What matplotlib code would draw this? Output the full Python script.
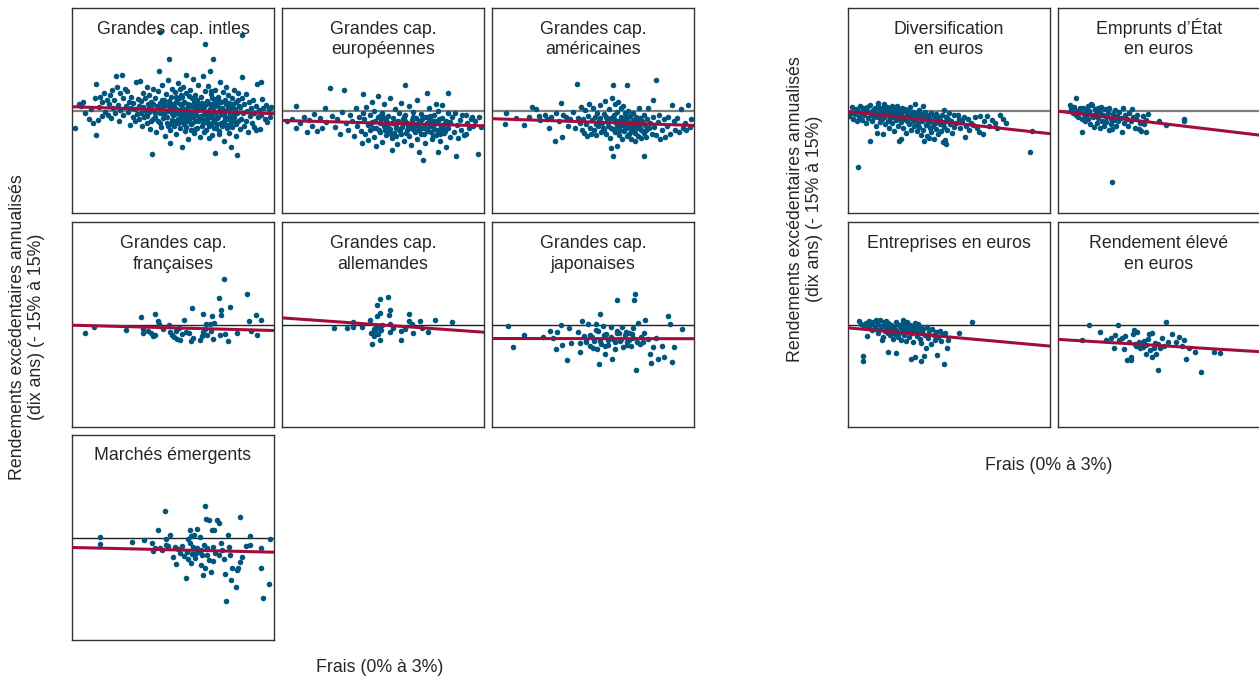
import matplotlib
matplotlib.use("Agg")
import matplotlib.pyplot as plt

plt.rcParams['font.family'] = ['Liberation Sans', 'DejaVu Sans']

# (fee %, excess return %) pairs
intl_large = [
    (0.05, -2.5), (0.10, 0.9), (0.13, 0.6), (0.17, 1.3), (0.20, -0.4), (0.25, -1.2), (0.28, 0.2), (0.31, -1.8),
    (0.34, 1.8), (0.36, 3.9), (0.36, -3.6), (0.38, -1.4), (0.40, 0.5), (0.42, 2.0), (0.45, -0.8), (0.45, 1.2),
    (0.48, 2.6), (0.49, -0.2),
    (0.52, 1.5), (0.53, -0.6), (0.55, 0.9), (0.57, 2.2), (0.58, -1.1), (0.60, 3.0), (0.61, 0.3), (0.63, 1.6),
    (0.64, -0.3), (0.66, 5.05), (0.67, 3.4), (0.68, 0.8), (0.70, -1.5), (0.71, 2.5), (0.72, 0.1), (0.74, 5.15),
    (0.75, 1.9), (0.76, -0.7), (0.78, 3.2), (0.80, 0.6), (0.81, 2.8), (0.83, -0.2), (0.84, 1.3), (0.86, -2.1),
    (0.87, 0.4), (0.88, 2.0), (0.90, -0.9), (0.91, 1.1), (0.93, -1.6), (0.94, 0.2), (0.95, 4.1), (0.96, -0.5),
    (0.98, 1.7), (0.99, -1.2), (0.99, 0.7),
    (1.01, 4.3), (1.02, -0.4), (1.03, 1.4), (1.04, -2.2), (1.05, 0.5), (1.06, 2.6), (1.07, -1.0), (1.08, 0.1),
    (1.09, 1.8), (1.10, -0.6), (1.11, 3.5), (1.12, -1.8), (1.13, 0.9), (1.14, -0.2), (1.15, 2.2), (1.16, -2.7),
    (1.17, 0.4), (1.18, 1.3), (1.19, -6.4), (1.20, -1.3), (1.21, 3.1), (1.22, 0.0), (1.23, -0.9), (1.24, 1.9),
    (1.25, -3.2), (1.26, 0.6), (1.27, -1.6), (1.28, 2.8), (1.29, 5.8), (1.30, 11.5), (1.30, -0.3), (1.31, 1.1),
    (1.32, -2.4), (1.33, 0.3), (1.34, 3.8), (1.35, -1.1), (1.36, 1.6), (1.37, -0.5), (1.38, -3.8), (1.39, 2.4),
    (1.40, 0.8), (1.41, -1.9), (1.42, 4.5), (1.43, -0.1), (1.44, 7.6), (1.44, 1.4), (1.45, -2.9), (1.46, -4.8),
    (1.46, 0.5), (1.47, 2.0), (1.48, -1.4), (1.49, 3.2),
    (1.50, -0.7), (1.51, 1.0), (1.52, -2.2), (1.53, 2.7), (1.54, 0.2), (1.55, -3.5), (1.56, 1.7), (1.57, -1.2),
    (1.58, 4.0), (1.59, -0.4), (1.60, 0.9), (1.61, -2.6), (1.62, 2.2), (1.63, -1.7), (1.64, -5.4), (1.64, 0.4),
    (1.65, 3.4), (1.66, -0.9), (1.67, 1.3), (1.68, -3.0), (1.69, 5.15), (1.69, 0.0), (1.70, 2.5), (1.71, -1.5),
    (1.72, -4.2), (1.73, 1.0), (1.74, -0.3), (1.75, 3.0), (1.76, -2.0), (1.77, 0.6), (1.78, 1.9), (1.79, -1.0),
    (1.80, 4.6), (1.81, -3.3), (1.82, 0.3), (1.83, 2.3), (1.84, -0.6), (1.85, -2.5), (1.86, 1.5), (1.87, 3.7),
    (1.88, -1.3), (1.89, 0.1), (1.90, -3.9), (1.91, 2.0), (1.92, -0.8), (1.93, 1.1), (1.94, 5.0), (1.95, -1.9),
    (1.96, 0.5), (1.97, 2.9), (1.98, 9.8), (1.98, -0.2), (1.99, -2.8), (1.52, 0.5), (1.58, -1.8), (1.63, 1.0),
    (1.71, -0.6), (1.77, -2.9), (1.84, 1.2), (1.91, -1.1), (1.55, 2.0), (1.67, -2.0), (1.74, 2.1), (1.82, -1.6),
    (1.88, 0.7), (1.96, -3.2), (1.61, 3.1), (1.79, 0.9),
    (2.00, 1.4), (2.01, -1.4), (2.02, 3.6), (2.03, 0.0), (2.04, -2.3), (2.05, 5.8), (2.05, 1.0), (2.06, -0.9),
    (2.07, 2.4), (2.08, -3.6), (2.09, 0.4), (2.10, 7.6), (2.10, -1.7), (2.11, 1.7), (2.12, -0.4), (2.13, -6.2),
    (2.13, 3.0), (2.14, -2.6), (2.15, 0.8), (2.16, -1.1), (2.17, 2.0), (2.18, -0.1), (2.19, -3.0), (2.20, 4.2),
    (2.21, 1.2), (2.22, -1.8), (2.23, 0.3), (2.24, 2.7), (2.25, -0.7), (2.26, -4.4), (2.27, 1.5), (2.28, -2.1),
    (2.29, 3.4), (2.30, 0.1), (2.31, -1.3), (2.32, 2.2), (2.33, -3.3), (2.34, 0.6), (2.35, -0.5), (2.36, -5.3),
    (2.37, 1.9), (2.38, -2.4), (2.39, 0.9), (2.40, 3.0), (2.41, -1.0), (2.42, 0.2), (2.43, -3.8), (2.44, 1.3),
    (2.45, -6.5), (2.45, -0.3), (2.46, 2.5), (2.47, -1.6), (2.48, 0.7), (2.49, -2.7), (2.02, -0.6), (2.08, 1.9),
    (2.15, -2.0), (2.21, 0.0), (2.27, -1.0), (2.33, 1.1), (2.39, -1.5), (2.44, -2.0), (2.06, 2.8), (2.18, -3.4),
    (2.30, -2.5), (2.12, 0.6), (2.24, -0.2), (2.36, 0.4), (2.47, 1.6), (2.04, -4.0),
    (2.50, 0.5), (2.51, -1.2), (2.52, 4.95), (2.53, 11.0), (2.53, 1.8), (2.54, -0.4), (2.55, -2.2), (2.56, 0.9),
    (2.58, -1.5), (2.59, 2.4), (2.60, -0.1), (2.62, -3.1), (2.63, 1.2), (2.64, -0.8), (2.66, 0.3), (2.67, -1.9),
    (2.69, 1.55), (2.70, -0.3), (2.71, -2.4), (2.73, -2.8), (2.74, 0.6), (2.75, 3.9), (2.76, -1.0), (2.78, 0.1),
    (2.79, -2.7), (2.80, 4.2), (2.81, -0.6), (2.82, 1.75), (2.84, 0.4), (2.86, -1.3), (2.88, 0.8), (2.90, -1.7),
    (2.92, 0.2), (2.94, -0.9), (2.96, 0.5),
    # dense core
    (1.12, -0.8), (1.15, 0.6), (1.18, -1.5), (1.21, 1.0), (1.24, -0.4), (1.27, 0.3), (1.30, -1.9), (1.33, 1.5),
    (1.36, -0.9), (1.39, 0.0), (1.42, -2.2), (1.45, 1.1), (1.48, -0.3), (1.51, -1.6), (1.54, 1.3), (1.57, 0.1),
    (1.60, -1.1), (1.63, 2.0), (1.66, -0.2), (1.69, -2.4), (1.72, 0.8), (1.75, -0.8), (1.78, -1.8), (1.81, 1.6),
    (1.84, -0.1), (1.87, -1.6), (1.90, 0.9), (1.93, -2.2), (1.96, -0.5), (1.99, 1.0), (2.02, -1.9), (2.05, 0.2),
    (2.08, -0.7), (2.11, -2.6), (2.14, 1.1), (2.17, -0.9), (2.20, 0.4), (2.23, -2.2), (2.26, -0.3), (2.29, 1.0),
    (2.32, -1.1), (2.35, -2.0), (2.38, 0.6), (2.41, -0.6), (1.35, 0.9), (1.41, -1.0), (1.47, -2.0), (1.53, -0.5),
    (1.59, 1.8), (1.65, -1.4), (1.71, 0.3), (1.77, -0.4), (1.83, -2.7), (1.89, -0.9), (1.95, 0.3), (2.01, -1.0),
    (2.07, -2.0), (2.13, -1.2), (2.19, 1.4), (2.25, -1.5), (2.31, 0.5), (2.37, -1.2), (1.62, -0.6), (1.74, -1.3),
    (1.86, 0.5), (1.98, -1.4), (2.10, 0.9), (2.22, -0.5), (2.34, -0.2), (1.50, 0.6),
]

europe_large = [
    (0.21, 0.7), (0.21, -2.5), (0.08, -1.6), (0.15, -1.2), (0.27, -1.8), (0.32, -0.9), (0.37, -3.2), (0.40, -1.4),
    (0.45, -2.2), (0.48, -0.5), (0.52, -3.0), (0.56, -1.1), (0.60, -2.6), (0.64, 0.3), (0.66, -1.7),
    (0.71, 3.35), (0.74, -0.8), (0.78, -2.4), (0.82, -1.3), (0.86, -3.5), (0.89, -0.2), (0.92, 3.05), (0.95, -1.9),
    (0.98, -2.9), (1.01, -0.6), (1.04, -1.5), (1.07, -3.8), (1.10, 0.4), (1.12, -2.2), (1.15, -1.0), (1.18, -3.0),
    (1.19, -4.8), (1.20, 2.4), (1.20, -0.3),
    (1.22, -1.2), (1.24, -3.4), (1.25, 0.5), (1.27, -2.1), (1.28, -4.3), (1.30, -0.6), (1.31, -2.8), (1.33, 1.3),
    (1.34, -1.7), (1.36, -3.9), (1.37, -0.1), (1.39, -2.5), (1.40, -5.2), (1.42, -1.0), (1.43, 2.1), (1.45, -3.1),
    (1.46, -1.9), (1.48, -0.4), (1.49, -4.6), (1.51, -2.3), (1.52, 0.9), (1.54, -1.4), (1.55, -3.6), (1.57, -2.0),
    (1.58, -0.8), (1.60, 1.8), (1.61, -2.7), (1.63, -4.0), (1.63, -5.8), (1.65, -1.1), (1.66, -3.3), (1.68, 0.2),
    (1.69, -2.2), (1.71, -4.9), (1.72, -1.5), (1.74, -0.3), (1.75, -3.0), (1.77, 1.1), (1.78, -2.4), (1.80, -1.3),
    (1.81, -4.4), (1.83, 3.7), (1.83, -0.7), (1.85, -2.9), (1.86, -1.8), (1.88, -3.7), (1.89, 0.6), (1.91, -2.6),
    (1.92, -5.0), (1.94, -1.0), (1.95, -0.2), (1.97, -3.2), (1.98, -2.0), (2.00, 1.5), (2.01, -4.1), (2.03, -1.6),
    (2.04, -6.0), (2.04, -2.8), (2.06, -0.5), (2.07, -3.5), (2.08, -1.2), (2.09, -7.3), (2.11, -2.4), (2.12, -4.7),
    (2.14, -0.9), (2.15, -1.9), (2.16, 2.6), (2.17, -3.0), (2.19, 0.3), (2.20, -2.2), (2.22, -1.4), (2.23, -4.2),
    (2.25, -0.6), (2.26, -2.7), (2.28, 1.0), (2.29, -3.6), (2.31, -1.8), (2.31, -6.0), (2.32, -0.1), (2.34, -2.9),
    (2.35, -4.5), (2.37, -1.1), (2.38, 0.8), (2.40, -3.3), (2.41, -2.0), (2.43, -5.3), (2.44, -1.5), (2.46, 2.6),
    (2.47, -2.6), (2.47, -0.4), (2.49, -3.9), (2.50, -1.7), (1.35, -2.6), (1.47, -1.3), (1.59, -3.1), (1.70, -2.5),
    (1.82, -1.6), (1.96, -2.3), (2.10, -0.9), (2.24, -3.8), (1.53, -2.9), (1.64, -1.9), (1.76, -3.4), (1.87, -2.3),
    (1.99, -1.1), (2.13, -2.5), (2.27, -1.6), (2.39, -2.4),
    (2.52, -1.0), (2.55, -3.2), (2.57, -0.3), (2.59, -6.7), (2.60, -2.1), (2.62, -4.0), (2.64, -1.4), (2.66, -2.8),
    (2.68, -0.7), (2.70, -3.6), (2.73, -3.5), (2.73, -0.6), (2.75, -1.9), (2.77, -2.6), (2.80, -1.2), (2.82, -0.9),
    (2.84, -2.2), (2.87, -1.5), (2.91, -6.4), (2.93, -1.0), (2.95, -2.4),
    (1.30, -2.0), (1.38, -1.5), (1.44, -2.8), (1.50, -1.0), (1.56, -2.4), (1.62, -3.4), (1.67, -1.6), (1.73, -2.7),
    (1.79, -1.9), (1.84, -3.3), (1.90, -2.1), (1.93, -1.4), (1.99, -3.0), (2.02, -2.2), (2.05, -1.5), (2.11, -3.4),
    (2.15, -2.8), (2.18, -1.2), (2.21, -3.1), (2.26, -2.0), (2.30, -2.9), (2.33, -1.3), (2.36, -2.4), (2.42, -3.0),
    (1.45, -0.8), (1.58, -1.9), (1.70, -3.8), (1.81, -0.9), (1.94, -2.7), (2.08, -2.5), (2.20, -0.8), (2.35, -3.5),
]

us_large = [
    (0.21, -0.4), (0.20, -2.0), (0.35, -1.1), (0.48, -2.1), (0.55, -0.9), (0.60, 0.5), (0.65, 0.2), (0.70, -0.8),
    (0.72, -1.4), (0.78, -0.6), (0.82, -1.2), (0.85, -2.6), (0.88, -0.9), (0.93, -4.5), (0.95, -0.4), (1.00, -1.5),
    (1.02, 1.1), (1.04, -3.9), (1.06, -0.7), (1.10, -1.0), (1.13, -2.2), (1.16, -1.3), (1.20, -0.2), (1.23, -2.5),
    (1.26, 3.95), (1.28, -1.1), (1.30, -1.8),
    (1.32, 0.5), (1.34, -2.8), (1.35, -1.2), (1.37, -3.3), (1.38, 0.1), (1.40, -2.0), (1.41, -3.8), (1.43, -0.8),
    (1.44, 1.0), (1.46, -2.5), (1.47, -3.5), (1.49, -1.4), (1.50, 0.3), (1.52, -2.9), (1.53, -1.0), (1.55, -3.6),
    (1.56, -0.3), (1.58, -2.2), (1.59, -1.6), (1.61, 0.8), (1.62, -3.1), (1.64, -1.8), (1.65, -2.6), (1.67, -0.5),
    (1.68, 1.4), (1.70, -3.4), (1.71, -1.3), (1.73, -2.3), (1.74, 0.2), (1.75, -4.0), (1.76, -5.5), (1.77, -1.1),
    (1.78, 1.9), (1.79, -6.7), (1.80, 3.66), (1.80, -2.7), (1.81, -0.6), (1.82, -3.2), (1.83, 0.9), (1.84, -1.9),
    (1.85, -5.2), (1.85, -2.4), (1.86, -0.2), (1.87, 1.2), (1.88, -3.6), (1.89, -1.5), (1.90, -2.9), (1.91, 0.4),
    (1.92, -1.0), (1.93, -4.2), (1.94, -2.1), (1.95, 0.7), (1.96, -3.0), (1.97, -1.7), (1.98, -0.4), (1.99, -2.6),
    (2.00, -3.8), (2.01, 3.7), (2.01, -1.2), (2.02, 0.0), (2.03, -2.2), (2.04, -3.4), (2.05, -0.8), (2.06, -1.9),
    (2.07, -4.1), (2.08, -2.7), (2.09, -0.3), (2.10, -1.4), (2.11, -3.1), (2.12, -2.0), (2.13, -4.5), (2.14, -0.9),
    (2.15, -2.5), (2.16, -1.6), (2.17, -3.7), (2.18, 0.3), (2.19, -2.3), (2.20, -1.1), (2.21, -4.0), (2.22, -2.8),
    (2.23, -1.5), (2.25, -6.7), (2.25, -3.3), (2.26, -0.6), (2.27, -2.1), (2.29, -3.9), (2.30, -1.3), (2.32, 0.4),
    (2.33, -2.6), (2.35, -1.8), (2.37, -3.5), (2.39, 1.6), (2.39, -1.0), (2.43, 4.4),
    (2.41, -2.4), (2.44, -3.6), (2.46, -1.7), (2.48, -0.6), (2.50, -4.1), (2.52, -2.9), (2.55, -1.3), (2.57, -3.9),
    (2.60, -2.2), (2.62, -0.9), (2.65, -3.4), (2.68, 0.83), (2.70, -1.5), (2.72, -2.8), (2.75, -1.1), (2.78, -3.2),
    (2.80, 0.2), (2.83, -2.6), (2.86, -1.8), (2.88, -2.9), (2.91, 0.83), (2.94, -2.4), (2.96, -1.2),
    (1.55, -2.0), (1.60, -1.1), (1.66, -2.9), (1.72, -1.7), (1.77, -2.5), (1.83, -1.4), (1.88, -2.2), (1.93, -1.3),
    (1.97, -2.4), (2.02, -1.7), (2.06, -2.9), (2.10, -2.2), (2.15, -1.2), (2.20, -2.6), (2.24, -1.9), (2.28, -2.9),
    (1.70, -0.9), (1.85, -3.0), (1.99, -0.9), (2.12, -3.3),
]

france_large = [
    (0.20, -1.27), (0.33, -0.3), (0.80, -0.8), (1.02, 1.07), (1.06, -1.27), (1.06, -0.6), (1.13, -0.9),
    (1.18, -1.27), (1.20, -1.65), (1.24, -1.6), (1.23, 1.5), (1.28, 0.54), (1.29, 0.05), (1.35, -0.7),
    (1.44, -0.1), (1.45, -1.17), (1.48, -1.56), (1.51, -1.9), (1.54, -1.0), (1.56, -2.14), (1.60, -2.3),
    (1.59, -0.54), (1.64, -1.4), (1.66, 0.73), (1.70, -1.17), (1.74, -1.27), (1.76, -2.4), (1.78, 2.44),
    (1.80, -2.0), (1.90, -2.2), (1.93, -1.75), (1.95, -1.17), (1.95, 1.6), (1.97, -0.7), (1.99, 0.05),
    (2.01, -1.5), (2.05, 0.05), (2.06, -0.9), (2.08, 1.2), (2.10, -2.1), (2.11, 0.2), (2.18, 3.95),
    (2.21, 2.14), (2.22, 1.36), (2.20, -1.5), (2.26, 6.7), (2.27, -1.4), (2.31, -2.48), (2.35, 2.63),
    (2.45, -1.27), (2.60, 4.4), (2.63, 0.54), (2.66, -0.9), (2.74, 1.46), (2.75, -1.5), (2.80, 0.73),
]

germany_large = [
    (0.77, -0.5), (0.97, -0.44), (1.06, 0.4), (1.06, -0.4), (1.19, -0.34), (1.31, 0.68), (1.32, -1.27),
    (1.34, -2.87), (1.36, -0.68), (1.37, -1.65), (1.38, -1.0), (1.41, 1.27), (1.41, 2.87), (1.44, -0.44),
    (1.45, 1.7), (1.46, 3.7), (1.46, -2.2), (1.47, -0.83), (1.49, -0.05), (1.57, 4.04), (1.59, 1.4),
    (1.61, 2.1), (1.60, 0.05), (1.60, -1.17), (1.65, -0.58), (1.76, -1.0), (1.76, -2.34), (1.83, -0.68),
    (1.89, 1.5), (1.89, 0.54), (1.93, 0.05), (1.95, -1.27), (2.05, 0.5), (2.08, -0.54), (2.17, -1.1),
    (2.27, 0.68), (2.52, 0.34), (1.42, -1.4), (1.39, -0.3),
]

japan_large = [
    (0.24, -0.2), (0.31, -3.26), (0.48, -1.56), (0.75, -1.85), (0.86, -0.93), (0.91, -2.0), (0.96, -1.17),
    (0.95, -3.56), (1.03, 0.0), (1.04, -3.0), (1.11, -5.16), (1.14, -0.54), (1.17, -2.78), (1.28, -1.12),
    (1.30, -4.04), (1.31, -2.78), (1.33, 0.49), (1.36, -1.7), (1.39, -2.2), (1.43, 0.05), (1.45, -3.17),
    (1.49, -1.8), (1.50, -3.4), (1.54, 0.05), (1.56, -3.6), (1.59, -5.84), (1.60, 1.6), (1.61, -2.4),
    (1.65, -0.2), (1.68, -4.3), (1.70, -1.4), (1.73, -2.97), (1.76, -0.34), (1.78, -5.1), (1.80, -2.14),
    (1.83, -3.6), (1.85, 3.65), (1.86, -1.3), (1.90, -2.4), (1.93, -0.34), (1.95, -3.36), (1.99, -1.12),
    (2.01, -2.58), (2.03, -1.27), (2.06, -3.17), (2.09, -0.58), (2.10, -2.0), (2.11, 3.65), (2.13, 4.53),
    (2.14, -6.7), (2.17, 0.15), (2.20, -2.87), (2.24, -2.58), (2.25, -1.22), (2.27, 0.63), (2.32, -2.14),
    (2.34, -4.3), (2.36, -5.6), (2.39, -3.26), (2.43, -2.0), (2.47, -5.1), (2.52, -3.2), (2.56, -4.7),
    (2.61, 1.2), (2.65, 0.05), (2.67, -5.55), (2.70, -3.26), (2.82, -0.73),
    (1.45, -1.5), (1.52, -2.4), (1.58, -1.0), (1.62, -2.8), (1.66, -1.6), (1.72, -2.2), (1.76, -1.8),
    (1.82, -2.6), (1.88, -1.2), (1.92, -2.1), (1.97, -1.6), (2.04, -2.3), (2.08, -1.4), (2.15, -2.6),
    (2.22, -1.9), (1.40, -2.6), (1.55, -0.8), (1.68, -3.2), (1.85, -0.9), (2.00, -3.0),
]

emerging = [
    (0.42, 0.1), (0.42, -0.97), (0.89, -0.68), (1.07, -0.34), (1.19, -0.87), (1.20, -2.0), (1.24, -1.5),
    (1.27, 1.17), (1.30, -1.55), (1.33, -1.9), (1.38, 3.9), (1.39, -1.17), (1.40, -0.24), (1.42, -1.31),
    (1.45, 0.34), (1.50, -2.82), (1.53, -1.36), (1.55, -3.94), (1.61, -2.2), (1.64, -1.2), (1.69, -5.88),
    (1.71, -2.1), (1.72, -3.2), (1.73, -0.15), (1.75, 1.17), (1.75, -0.87), (1.76, -3.8), (1.77, 0.24),
    (1.78, -2.48), (1.80, -1.36), (1.81, 0.34), (1.83, -2.97), (1.85, 1.31), (1.86, -1.6), (1.87, -2.1),
    (1.90, 0.1), (1.91, -4.0), (1.93, -2.6), (1.95, -5.5), (1.96, -1.1), (1.97, -4.5), (1.98, 4.6),
    (1.99, 2.77), (2.00, -2.6), (2.00, -1.6), (2.03, 2.5), (2.04, -3.3), (2.06, -5.0), (2.08, 1.07),
    (2.09, -3.45), (2.10, -1.36), (2.11, 1.07), (2.15, 2.6), (2.18, 2.14), (2.19, -2.6), (2.22, -0.87),
    (2.23, -1.85), (2.25, -3.2), (2.27, -5.3), (2.29, -9.24), (2.32, 0.34), (2.33, -1.36), (2.35, -2.6),
    (2.36, -6.2), (2.38, -4.5), (2.43, -7.3), (2.45, -4.7), (2.46, -4.5), (2.49, 3.06), (2.50, -3.55),
    (2.53, -2.9), (2.59, -1.26), (2.65, 0.24), (2.65, -1.12), (2.80, -1.6), (2.80, -4.4), (2.83, -8.8),
    (2.93, -6.85), (2.94, -0.24), (1.58, -1.7), (1.67, -2.7), (1.84, -2.3), (1.92, -1.8), (2.13, -2.2),
]

diversified_eur = [
    (0.02, -0.8), (0.05, -0.3), (0.06, 0.5), (0.08, -1.2), (0.10, -0.5), (0.12, 0.2), (0.13, -1.6), (0.15, -8.24),
    (0.15, -0.1), (0.17, -0.9), (0.18, 0.6), (0.20, -0.4), (0.21, -1.4), (0.23, 0.3), (0.24, -0.7), (0.26, 0.0),
    (0.27, -1.9), (0.28, 0.5), (0.30, -1.1), (0.31, -0.2), (0.32, -4.5), (0.33, 0.8), (0.34, -0.6), (0.36, -1.5),
    (0.37, 0.1), (0.38, -0.9), (0.40, 0.4), (0.41, -2.2), (0.42, -0.3), (0.43, -3.3), (0.44, 1.17), (0.44, -1.0),
    (0.45, 0.6), (0.46, -0.5), (0.47, -1.7), (0.48, 0.2), (0.49, -0.8),
    (0.50, -1.3), (0.51, 0.3), (0.52, -3.37), (0.52, -0.4), (0.53, 0.9), (0.54, -1.0), (0.55, -2.0), (0.56, 0.0),
    (0.57, -0.7), (0.58, 0.5), (0.59, -1.5), (0.60, -0.2), (0.61, -2.6), (0.62, 0.4), (0.63, -1.1), (0.64, -0.5),
    (0.65, 0.7), (0.66, -1.8), (0.67, -0.1), (0.68, -3.0), (0.69, -0.9), (0.70, 0.3), (0.71, -1.4), (0.72, -0.4),
    (0.73, 0.6), (0.74, -2.2), (0.75, -0.8), (0.76, -4.5), (0.76, 0.1), (0.77, -1.2), (0.78, -4.2), (0.78, -0.3),
    (0.79, -1.7), (0.80, 0.4), (0.81, -0.9), (0.82, -2.5), (0.83, -0.1), (0.84, -1.3), (0.85, 0.2), (0.86, -3.3),
    (0.87, -0.6), (0.88, -1.6), (0.89, 0.0), (0.90, -2.0), (0.91, -0.7), (0.92, 0.5), (0.93, -1.1), (0.94, -2.8),
    (0.95, -0.4), (0.96, -1.5), (0.97, -0.2), (0.98, -2.3), (0.99, 0.88), (0.99, -0.9),
    (1.00, -1.4), (1.01, -0.3), (1.02, -3.0), (1.03, -0.8), (1.04, -1.9), (1.05, 0.1), (1.06, -2.4), (1.07, -1.0),
    (1.08, -3.6), (1.09, -0.5), (1.10, -1.6), (1.11, 0.63), (1.11, -2.9), (1.12, -0.9), (1.13, -4.4), (1.14, -1.3),
    (1.15, -0.2), (1.16, -2.1), (1.17, -3.8), (1.18, -0.7), (1.19, -1.8), (1.20, -4.0), (1.21, -1.1), (1.22, -2.6),
    (1.23, -0.4), (1.24, -3.2), (1.25, -1.5), (1.26, -2.2), (1.27, -0.8), (1.28, -4.2), (1.29, -1.9), (1.30, -0.5),
    (1.31, -2.7), (1.32, -1.2), (1.33, -3.5), (1.35, -0.9), (1.36, -2.0), (1.37, -1.4), (1.38, -3.0), (1.40, -0.6),
    (1.41, -4.6), (1.42, 0.05), (1.42, -1.7), (1.43, -2.4), (1.44, -4.3), (1.45, -1.0), (1.46, -4.9), (1.47, -2.9),
    (1.48, -1.3), (1.50, -0.4), (1.51, -2.0), (1.53, -1.6), (1.55, -3.3), (1.57, -0.6), (1.58, -2.4),
    (1.61, -1.9), (1.63, -0.7), (1.65, -1.2), (1.67, -2.6), (1.70, -1.5), (1.72, -0.9), (1.74, -3.95), (1.75, -2.2),
    (1.78, -1.3), (1.80, -2.8), (1.83, -1.8), (1.86, -2.1), (1.89, -1.0), (1.92, -2.5), (1.94, -3.2), (1.96, -0.8),
    (2.00, -3.46), (2.02, -1.6), (2.06, -0.78), (2.10, -2.2), (2.14, -1.4), (2.18, -1.9), (2.22, -2.6),
    (2.26, -0.6), (2.30, -1.3), (2.34, -1.8), (2.71, -6.0), (2.74, -2.93),
]

govt_eur = [
    (0.18, 0.78), (0.20, 0.2), (0.22, -0.3), (0.24, 0.5), (0.26, -0.6), (0.27, 1.76), (0.28, 0.0), (0.30, -0.9),
    (0.32, 0.4), (0.33, -0.2), (0.35, -1.2), (0.36, -3.2), (0.37, 0.3), (0.38, -0.5), (0.40, -1.6), (0.41, 0.1),
    (0.42, -0.8), (0.44, 0.6), (0.45, -1.3), (0.46, -0.1), (0.48, -2.0), (0.49, 0.9), (0.50, -0.6), (0.51, 0.8),
    (0.52, -1.0), (0.54, -2.4), (0.55, 0.2), (0.56, -0.4), (0.58, -1.8), (0.59, 0.4), (0.60, -1.1), (0.62, -2.6),
    (0.63, -0.2), (0.64, 0.5), (0.66, -1.5), (0.67, -0.6), (0.68, -2.2), (0.70, 0.2), (0.71, -0.9), (0.72, -1.7),
    (0.74, -0.3), (0.75, -2.9), (0.76, 0.4), (0.78, -1.2), (0.79, -2.0), (0.80, -10.5), (0.80, -2.7), (0.81, -0.5),
    (0.83, -1.4), (0.84, 0.1), (0.86, -2.3), (0.88, -0.8), (0.89, -1.6), (0.91, -0.2), (0.93, -1.1), (0.95, -3.1),
    (0.96, 0.3), (0.98, -1.9), (1.00, -0.7), (1.02, -1.3), (1.04, -2.2), (1.06, -0.4), (1.08, -1.6), (1.10, 0.2),
    (1.12, -0.9), (1.14, -2.5), (1.16, -1.2), (1.18, -0.6), (1.20, -2.7), (1.22, -1.8), (1.24, -3.0), (1.26, -0.8),
    (1.28, -2.0), (1.30, -3.1), (1.31, -1.4), (1.33, -0.5), (1.50, -1.5), (1.60, -2.15), (1.87, -1.27),
    (1.87, -1.56),
]

corp_eur = [
    (0.16, 0.44), (0.20, 0.1), (0.22, -4.66), (0.22, -5.34), (0.24, -0.3), (0.26, 0.2), (0.28, -1.75), (0.30, -0.5),
    (0.31, 0.58), (0.33, -0.1), (0.35, -0.8), (0.37, 0.4), (0.40, -0.3), (0.42, 0.6), (0.44, -1.2), (0.45, 0.1),
    (0.47, -0.6), (0.48, 0.7), (0.50, -2.2), (0.50, -0.2), (0.52, -1.9), (0.53, 0.3), (0.55, -0.9), (0.56, 0.5),
    (0.57, -0.4), (0.59, -4.0), (0.59, -1.3), (0.60, 0.2), (0.62, -0.7), (0.63, -1.6), (0.64, 0.0), (0.66, -1.0),
    (0.67, -2.1), (0.68, -0.3), (0.70, -1.4), (0.71, 0.4), (0.72, -4.1), (0.72, -0.8), (0.74, -1.9), (0.75, -0.1),
    (0.76, -1.2), (0.78, -0.5), (0.79, -2.3), (0.80, 0.1), (0.81, 0.73), (0.82, -0.9), (0.83, -1.5), (0.85, -0.2),
    (0.86, -2.4), (0.87, -0.7), (0.88, 0.3), (0.89, -1.1), (0.90, -0.4), (0.91, -1.8), (0.92, 0.0), (0.93, -0.8),
    (0.94, -5.0), (0.95, -1.3), (0.96, -0.2), (0.97, -2.6), (0.98, -0.6), (0.99, 0.2), (1.00, -4.76), (1.00, -1.0),
    (1.02, -0.4), (1.03, -1.7), (1.04, 0.1), (1.05, -0.9), (1.07, -2.1), (1.08, -0.3), (1.09, -5.34), (1.09, -2.67),
    (1.10, -1.2), (1.12, -0.6), (1.13, -4.6), (1.14, -1.5), (1.16, -3.4), (1.17, -0.4), (1.19, -2.0), (1.21, -1.0),
    (1.23, -2.9), (1.25, -0.7), (1.27, -1.6), (1.29, -2.3), (1.31, -1.1), (1.32, -4.47), (1.34, -1.8), (1.36, -0.9),
    (1.38, -2.4), (1.40, -1.4), (1.43, -5.83), (1.44, -1.2), (1.47, -3.4), (1.48, -2.2), (1.65, -1.3), (1.84, 0.34),
]

high_yield_eur = [
    (0.35, -2.23), (0.46, -0.05), (0.63, -1.07), (0.72, -2.3), (0.78, -2.04), (0.83, -3.4), (0.85, -1.55),
    (0.89, -0.1), (0.91, -2.2), (0.95, -2.0), (0.98, -3.64), (1.00, -1.7), (1.03, -5.24), (1.05, -2.6),
    (1.08, -4.76), (1.09, -5.2), (1.11, -1.4), (1.13, -0.87), (1.14, -2.9), (1.16, -3.1), (1.18, -1.07),
    (1.20, -2.6), (1.22, -3.5), (1.24, -2.8), (1.26, -3.3), (1.28, -2.4), (1.30, -4.27), (1.31, -3.0),
    (1.33, -2.1), (1.35, -1.4), (1.37, -3.8), (1.39, -4.8), (1.40, -1.2), (1.42, -3.4), (1.44, -2.7),
    (1.46, -4.3), (1.48, -2.9), (1.49, -6.7), (1.51, -3.5), (1.55, -2.0), (1.58, -3.1), (1.60, 0.34),
    (1.64, -2.5), (1.69, -1.46), (1.75, -2.6), (1.80, -1.8), (1.84, -3.1), (1.87, -2.33), (1.90, -5.1),
    (1.95, -3.5), (2.03, -4.0), (2.12, -7.0), (2.32, -4.0), (2.41, -4.1),
]

panel_data = [intl_large, europe_large, us_large, france_large, germany_large, japan_large, emerging,
              diversified_eur, govt_eur, corp_eur, high_yield_eur]
panel_titles = ['Grandes cap. intles', 'Grandes cap.\neuropéennes', 'Grandes cap.\naméricaines',
                'Grandes cap.\nfrançaises', 'Grandes cap.\nallemandes', 'Grandes cap.\njaponaises',
                'Marchés émergents', 'Diversification\nen euros', 'Emprunts d\u2019État\nen euros',
                'Entreprises en euros', 'Rendement élevé\nen euros']
# regression line: value at 0% fee and slope per 1% fee
fit_intercept = [0.56, -1.46, -1.2, -0.1, 0.97, -2.05, -1.46, -0.15, -0.1, -0.49, -2.18]
fit_slope = [-0.34, -0.26, -0.33, -0.26, -0.70, -0.01, -0.23, -1.08, -1.17, -0.89, -0.6]

# panel boxes in pixels: left, top
W, H = 1259, 677
pw, ph = 202, 205
boxes = [(72, 8), (282, 8), (492, 8),
         (72, 222), (282, 222), (492, 222),
         (72, 435),
         (848, 8), (1058, 8),
         (848, 222), (1058, 222)]
top_row = [True, True, True, False, False, False, False, True, True, False, False]

dot_color = '#00567f'
line_color = '#a30d3c'
text_color = '#262626'
fs = 12.8

fig = plt.figure(figsize=(W / 100, H / 100), dpi=100)

for i, (left, top) in enumerate(boxes):
    ax = fig.add_axes([left / W, 1 - (top + ph) / H, pw / W, ph / H])
    fees = [p[0] for p in panel_data[i]]
    rets = [p[1] for p in panel_data[i]]
    ax.axhline(0, color='#7f7f7f' if top_row[i] else '#222222', lw=1.6 if top_row[i] else 1.0, zorder=1)
    ax.scatter(fees, rets, s=16, color=dot_color, linewidths=0, zorder=2)
    ax.plot([0, 3], [fit_intercept[i], fit_intercept[i] + 3 * fit_slope[i]], color=line_color, lw=2.2, zorder=3)
    ax.set_xlim(0, 3)
    ax.set_ylim(-15, 15)
    ax.set_xticks([])
    ax.set_yticks([])
    for sp in ax.spines.values():
        sp.set_color('#333333')
        sp.set_linewidth(1.0)
    # each title line placed on its own baseline so accents do not shift it
    for k, line in enumerate(panel_titles[i].split('\n')):
        ax.text(0.5, 1 - (25.5 + 21 * k) / ph, line, transform=ax.transAxes, ha='center', va='baseline',
                fontsize=fs, color=text_color)

ylab = 'Rendements excédentaires annualisés\n(dix ans) (- 15% à 15%)'
fig.text(27 / W, 1 - 327 / H, ylab, rotation=90, ha='center', va='center', fontsize=fs,
         color=text_color, multialignment='center', linespacing=1.1)
fig.text(805 / W, 1 - 209 / H, ylab, rotation=90, ha='center', va='center', fontsize=fs,
         color=text_color, multialignment='center', linespacing=1.1)
fig.text(380 / W, 1 - 667 / H, 'Frais (0% à 3%)', ha='center', va='center', fontsize=fs, color=text_color)
fig.text(1049 / W, 1 - 465 / H, 'Frais (0% à 3%)', ha='center', va='center', fontsize=fs, color=text_color)

fig.savefig('out.png', dpi=100)
